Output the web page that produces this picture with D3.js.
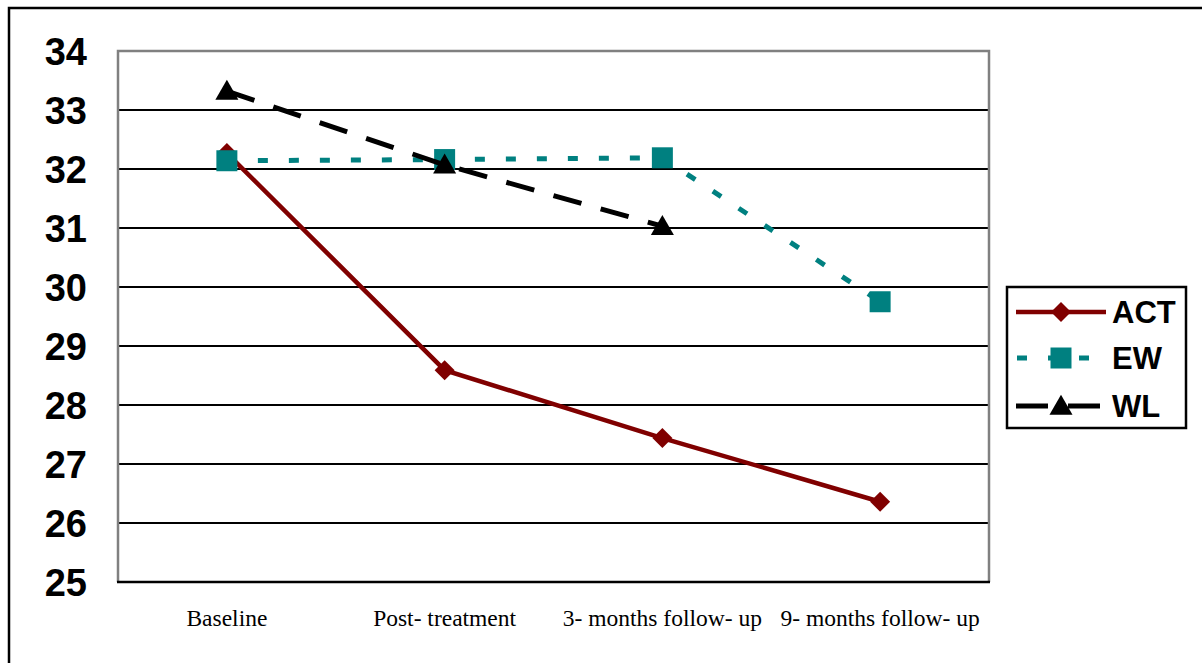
<!DOCTYPE html>
<html>
<head>
<meta charset="utf-8">
<script src="https://cdn.jsdelivr.net/npm/d3@7"></script>
<style>
  html, body { margin: 0; padding: 0; background: #fff; }
  svg { display: block; }
</style>
</head>
<body>
<svg id="chart" width="1202" height="663"></svg>
<script>
const categories = ["Baseline", "Post- treatment", "3- months follow- up", "9- months follow- up"];
const actValues = [32.27, 28.59, 27.44, 26.36];
const ewValues = [32.14, 32.16, 32.19, 29.75];
const wlValues = [33.32, 32.07, 31.03, null];
const yTicks = [25, 26, 27, 28, 29, 30, 31, 32, 33, 34];
const seriesNames = ["ACT", "EW", "WL"];

const svg = d3.select("#chart");

// outer frame
svg.append("rect").attr("x", 9).attr("y", 8).attr("width", 1250).attr("height", 700)
  .attr("fill", "none").attr("stroke", "#000").attr("stroke-width", 2.5);

const plot = { left: 118, right: 989, top: 51, bottom: 582 };

const x = d3.scaleBand().domain(categories).range([plot.left, plot.right]).paddingInner(0).paddingOuter(0);
const xc = c => x(c) + x.bandwidth() / 2;
const y = d3.scaleLinear().domain([25, 34]).range([plot.bottom, plot.top]);

// gridlines
svg.append("g").selectAll("line").data(yTicks.filter(t => t > 25 && t < 34)).join("line")
  .attr("x1", plot.left).attr("x2", plot.right)
  .attr("y1", d => y(d)).attr("y2", d => y(d))
  .attr("stroke", "#000").attr("stroke-width", 2);

// plot border (gray)
svg.append("path")
  .attr("d", `M${plot.left},${plot.bottom}V${plot.top}H${plot.right}V${plot.bottom}`)
  .attr("fill", "none").attr("stroke", "#808080").attr("stroke-width", 2.5);
// bottom axis
svg.append("line").attr("x1", plot.left - 1).attr("x2", plot.right + 1)
  .attr("y1", plot.bottom).attr("y2", plot.bottom)
  .attr("stroke", "#000").attr("stroke-width", 2.5);

// y axis labels
const yAxis = d3.axisLeft(y).tickValues(yTicks).tickSize(0).tickPadding(31).tickFormat(d3.format("d"));
const ya = svg.append("g").attr("transform", `translate(${plot.left},0)`).call(yAxis);
ya.select(".domain").remove();
ya.selectAll("text").attr("font-family", "Liberation Sans, Arial, sans-serif")
  .attr("font-weight", "bold").attr("font-size", 38).attr("fill", "#000").attr("dy", "0.36em");

// x axis labels
const xAxis = d3.axisBottom(x).tickSize(0).tickPadding(0);
const xa = svg.append("g").attr("transform", `translate(0,${plot.bottom})`).call(xAxis);
xa.select(".domain").remove();
xa.selectAll("text").attr("font-family", "Liberation Serif, 'Times New Roman', serif")
  .attr("font-size", 23.5).attr("fill", "#000").attr("dy", null).attr("y", 44);

const series = [
  { name: "ACT", values: actValues, color: "#800000", dash: null, width: 4.5, marker: "diamond" },
  { name: "EW", values: ewValues, color: "#008080", dash: "10,21", width: 5, marker: "square" },
  { name: "WL", values: wlValues, color: "#000000", dash: "29,20", width: 5, marker: "triangle" }
];

const symbolFor = m => {
  if (m === "diamond") return d3.symbol().type(d3.symbolSquare).size(200);
  if (m === "square") return d3.symbol().type(d3.symbolSquare).size(441);
  return d3.symbol().type(d3.symbolTriangle).size(230);
};

const line = d3.line().defined(d => d.v !== null).x(d => xc(d.c)).y(d => y(d.v));

series.forEach(s => {
  const pts = categories.map((c, i) => ({ c, v: s.values[i] }));
  const g = svg.append("g");
  g.append("path").datum(pts).attr("d", line)
    .attr("fill", "none").attr("stroke", s.color).attr("stroke-width", s.width)
    .attr("stroke-dasharray", s.dash);
  g.selectAll("path.mk").data(pts.filter(d => d.v !== null)).join("path").attr("class", "mk")
    .attr("d", symbolFor(s.marker)())
    .attr("transform", d => `translate(${xc(d.c)},${y(d.v) + (s.marker === "triangle" ? 2 : 0)})` + (s.marker === "diamond" ? " rotate(45)" : ""))
    .attr("fill", s.color);
});

// legend
const lg = svg.append("g");
lg.append("rect").attr("x", 1007).attr("y", 287).attr("width", 179).attr("height", 141)
  .attr("fill", "#fff").attr("stroke", "#000").attr("stroke-width", 2.5);
const legY = [312, 358, 406];
series.forEach((s, i) => {
  const yy = legY[i];
  lg.append("line").attr("x1", 1016).attr("x2", 1106).attr("y1", yy).attr("y2", yy)
    .attr("stroke", s.color).attr("stroke-width", s.width)
    .attr("stroke-dasharray", s.name === "EW" ? "10,21" : (s.name === "WL" ? "32,20" : null))
    .attr("stroke-dashoffset", s.name === "EW" ? -1 : 0);
  lg.append("path").attr("d", symbolFor(s.marker)())
    .attr("transform", `translate(1061,${yy + (s.marker === "triangle" ? 2 : 0)})` + (s.marker === "diamond" ? " rotate(45)" : ""))
    .attr("fill", s.color);
  lg.append("text").attr("x", 1112).attr("y", yy).attr("dy", "0.36em")
    .attr("font-family", "Liberation Sans, Arial, sans-serif").attr("font-weight", "bold")
    .attr("font-size", 31).attr("fill", "#000").text(s.name);
});
</script>
</body>
</html>
